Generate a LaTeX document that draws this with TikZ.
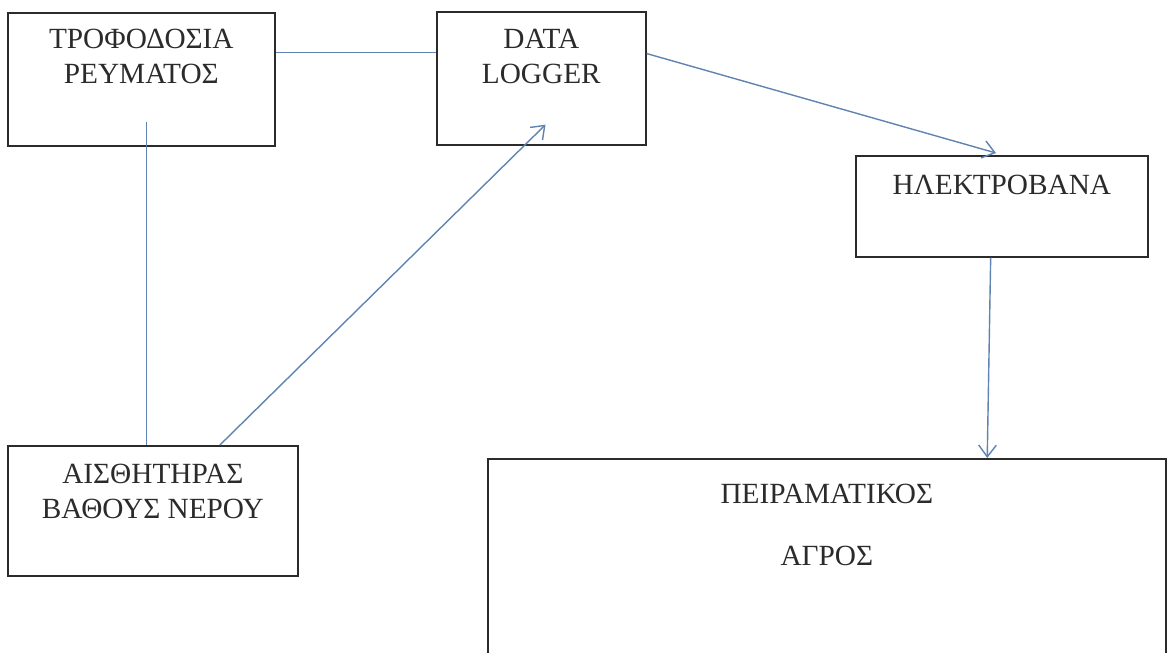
\documentclass[tikz,border=0pt]{standalone}
\usepackage{fontspec}
\setmainfont{Liberation Serif}
\usetikzlibrary{arrows.meta, positioning, calc}
\definecolor{ink}{HTML}{2B2B2B}
\definecolor{wireblue}{HTML}{5F84B0}
\tikzset{
  box/.style={
    rectangle, draw=ink, fill=white, line width=1.4pt,
    inner sep=0pt, anchor=north west
  },
  boxtext/.style={inner sep=0pt, align=center, text=ink, font=\fontsize{25}{30}\selectfont},
  wire/.style={line width=1.2pt, draw=wireblue},
  arrow/.style={wire, -{Straight Barb[length=10pt,width=15pt]}},
}

\begin{document}
\begin{tikzpicture}[x=0.03cm, y=-0.03cm]
  \useasboundingbox (0,0) rectangle (1167,653);
  \clip (0,0) rectangle (1167,653);

  % boxes
  \node[box, minimum width=8.01cm, minimum height=3.99cm] (power) at (7,12) {};
  \node[box, minimum width=6.27cm, minimum height=3.99cm] (logger) at (436,11) {};
  \node[box, minimum width=8.76cm, minimum height=3.03cm] (valve) at (855,155) {};
  \node[box, minimum width=8.7cm, minimum height=3.9cm] (sensor) at (7,445) {};
  \node[box, minimum width=20.34cm, minimum height=7.26cm] (field) at (487,458) {};

  % texts
  \node[boxtext, below=0.5cm of power.north] (powertext) {ΤΡΟΦΟΔΟΣΙΑ\\ΡΕΥΜΑΤΟΣ};
  \node[boxtext, below=0.53cm of logger.north] (loggertext) {DATA\\LOGGER};
  \node[boxtext, below=0.59cm of valve.north] (valvetext) {ΗΛΕΚΤΡΟΒΑΝΑ};
  \node[boxtext, below=0.56cm of sensor.north] (sensortext) {ΑΙΣΘΗΤΗΡΑΣ\\ΒΑΘΟΥΣ ΝΕΡΟΥ};
  \node[boxtext, below=0.77cm of field.north] (fieldtext) {ΠΕΙΡΑΜΑΤΙΚΟΣ\\[23pt]ΑΓΡΟΣ};

  % connections
  \draw[wire] ($(power.north east)!0.3!(power.south east)$) coordinate (p)
    -- (p -| logger.west);
  \path ($(power.south west)!0.52!(power.south east)$) coordinate (q);
  \draw[wire] ([yshift=0.75cm]q) -- (q |- sensor.north);
  \draw[arrow] ($(sensor.north west)!0.73!(sensor.north east)$)
    -- ($(logger.south west)!0.52!(logger.south east)+(0,-21)$);
  \draw[arrow] ($(logger.north east)!0.316!(logger.south east)$)
    -- ($(valve.north west)!0.48!(valve.north east)+(0,-2)$);
  \draw[arrow] ($(valve.south west)!0.462!(valve.south east)$)
    -- ($(field.north west)!0.736!(field.north east)$);
\end{tikzpicture}
\end{document}
